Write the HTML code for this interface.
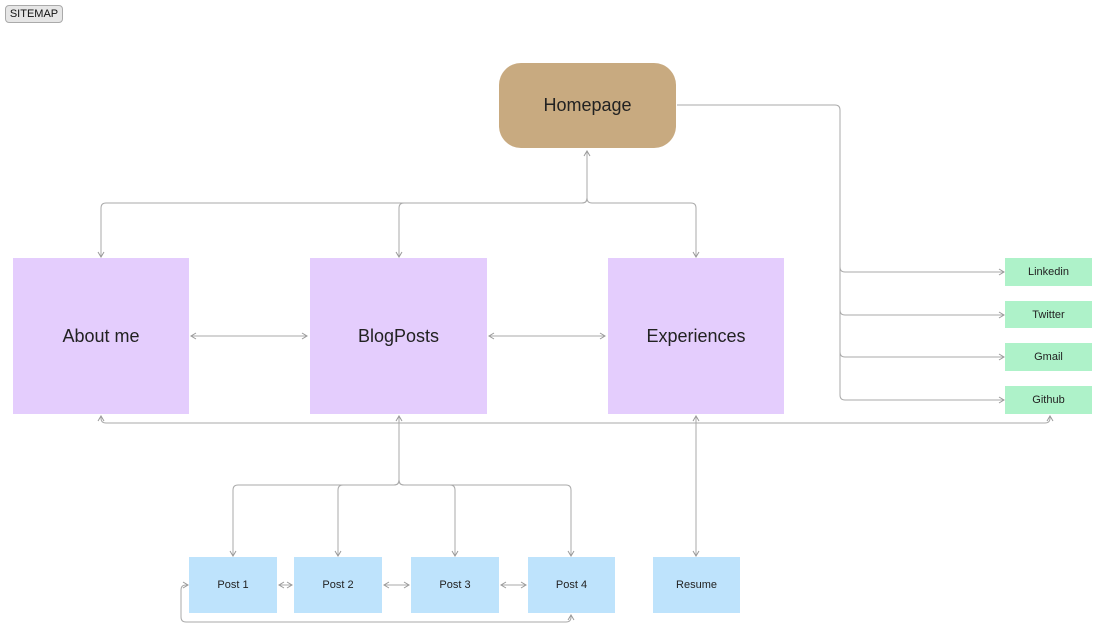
<!DOCTYPE html>
<html><head><style>
body{margin:0;width:1112px;height:644px;background:#fff;overflow:hidden;font-family:"Liberation Sans",sans-serif;}
svg{position:absolute;left:0;top:0}
.b{position:absolute;display:flex;align-items:center;justify-content:center;color:#222;}
</style></head><body>
<svg width="1112" height="644">
<defs><marker id="a" markerWidth="8" markerHeight="8" refX="6" refY="4" orient="auto-start-reverse" markerUnits="userSpaceOnUse"><path d="M1,1 L6,4 L1,7" fill="none" stroke="#999" stroke-width="1"/></marker></defs>
<g fill="none" stroke="#aaa" stroke-width="1">
<path d="M587,151 V198 Q587,203 582,203 H106 Q101,203 101,208 V257" marker-start="url(#a)" marker-end="url(#a)"/>
<path d="M587,198 Q587,203 592,203 H691 Q696,203 696,208 V257" marker-end="url(#a)"/>
<path d="M587,198 Q587,203 582,203 H404 Q399,203 399,208 V257" marker-end="url(#a)"/>
<path d="M677,105 H835 Q840,105 840,110 V395 Q840,400 845,400 H1004" marker-end="url(#a)"/>
<path d="M840,267 Q840,272 845,272 H1004" marker-end="url(#a)"/>
<path d="M840,310 Q840,315 845,315 H1004" marker-end="url(#a)"/>
<path d="M840,352 Q840,357 845,357 H1004" marker-end="url(#a)"/>
<path d="M191,336 H307" marker-start="url(#a)" marker-end="url(#a)"/>
<path d="M489,336 H605" marker-start="url(#a)" marker-end="url(#a)"/>
<path d="M101,416 V418 Q101,423 106,423 H1045 Q1050,423 1050,418 V416" marker-start="url(#a)" marker-end="url(#a)"/>
<path d="M696,416 V556" marker-start="url(#a)" marker-end="url(#a)"/>
<path d="M399,416 V480 Q399,485 394,485 H238 Q233,485 233,490 V556" marker-start="url(#a)" marker-end="url(#a)"/>
<path d="M399,480 Q399,485 394,485 H343 Q338,485 338,490 V556" marker-end="url(#a)"/>
<path d="M399,480 Q399,485 404,485 H450 Q455,485 455,490 V556" marker-end="url(#a)"/>
<path d="M399,480 Q399,485 404,485 H566 Q571,485 571,490 V556" marker-end="url(#a)"/>
<path d="M279,585 H292" marker-start="url(#a)" marker-end="url(#a)"/>
<path d="M384,585 H409" marker-start="url(#a)" marker-end="url(#a)"/>
<path d="M501,585 H526" marker-start="url(#a)" marker-end="url(#a)"/>
<path d="M188,585 H186 Q181,585 181,590 V617 Q181,622 186,622 H566 Q571,622 571,617 V615" marker-start="url(#a)" marker-end="url(#a)"/>
</g>
</svg>
<div class="b" style="left:5px;top:5px;width:56px;height:16px;background:#e6e6e6;border:1px solid #aaa;border-radius:4px;font-size:11px;color:#111">SITEMAP</div>
<div class="b" style="left:499px;top:63px;width:177px;height:85px;background:#c8aa80;border-radius:22px;font-size:18px">Homepage</div>
<div class="b" style="left:13px;top:258px;width:176px;height:156px;background:#e4cdfd;font-size:18px">About me</div>
<div class="b" style="left:310px;top:258px;width:177px;height:156px;background:#e4cdfd;font-size:18px">BlogPosts</div>
<div class="b" style="left:608px;top:258px;width:176px;height:156px;background:#e4cdfd;font-size:18px">Experiences</div>
<div class="b" style="left:1005px;top:258px;width:87px;height:28px;background:#aef2c9;font-size:11px">Linkedin</div>
<div class="b" style="left:1005px;top:301px;width:87px;height:27px;background:#aef2c9;font-size:11px">Twitter</div>
<div class="b" style="left:1005px;top:343px;width:87px;height:28px;background:#aef2c9;font-size:11px">Gmail</div>
<div class="b" style="left:1005px;top:386px;width:87px;height:28px;background:#aef2c9;font-size:11px">Github</div>
<div class="b" style="left:189px;top:557px;width:88px;height:56px;background:#bee3fc;font-size:11px">Post 1</div>
<div class="b" style="left:294px;top:557px;width:88px;height:56px;background:#bee3fc;font-size:11px">Post 2</div>
<div class="b" style="left:411px;top:557px;width:88px;height:56px;background:#bee3fc;font-size:11px">Post 3</div>
<div class="b" style="left:528px;top:557px;width:87px;height:56px;background:#bee3fc;font-size:11px">Post 4</div>
<div class="b" style="left:653px;top:557px;width:87px;height:56px;background:#bee3fc;font-size:11px">Resume</div>
</body></html>
